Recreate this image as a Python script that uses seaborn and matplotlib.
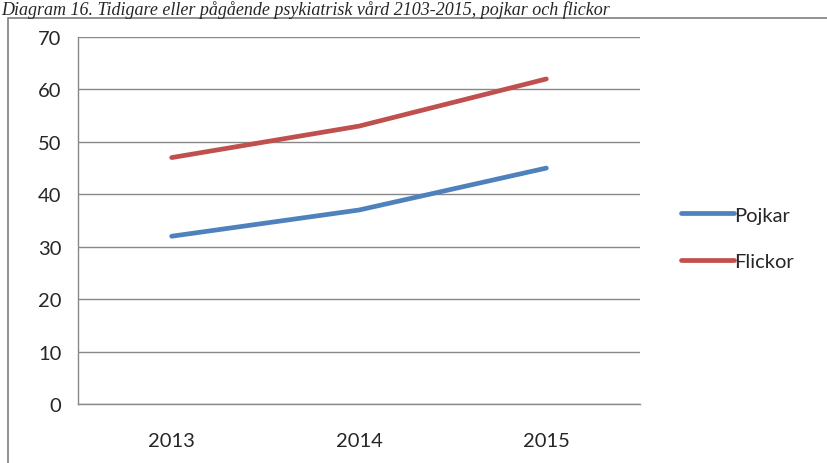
import matplotlib
matplotlib.use("Agg")
import matplotlib.pyplot as plt
import seaborn as sns
import pandas as pd
from matplotlib.patches import Rectangle

years = ["2013", "2014", "2015"]
pojkar = [32, 37, 45]
flickor = [47, 53, 62]
series_names = ["Pojkar", "Flickor"]
yticks = [0, 10, 20, 30, 40, 50, 60, 70]
title = "Diagram 16. Tidigare eller pågående psykiatrisk vård 2103-2015, pojkar och flickor"

sns.set_theme(style="white")
plt.rcParams['font.family'] = ['Lato', 'DejaVu Sans']

df = pd.DataFrame({
    "pos": list(range(len(years))) * 2,
    "value": pojkar + flickor,
    "serie": [series_names[0]] * len(years) + [series_names[1]] * len(years),
})

fig = plt.figure(figsize=(8.28, 4.64), dpi=100)
W, H = 828, 464
ax = fig.add_axes([78 / W, 59 / H, (640 - 78) / W, (405 - 38) / H])

palette = {"Pojkar": "#4F81BD", "Flickor": "#C0504D"}
sns.lineplot(data=df, x="pos", y="value", hue="serie", palette=palette,
             linewidth=3.4, ax=ax, legend=True, solid_capstyle="round")

fs = 14.5
ax.set_xlim(-0.5, 2.5)
ax.set_ylim(0, 70)
ax.set_yticks(yticks)
ax.set_yticklabels([str(t) for t in yticks], fontsize=fs)
ax.set_xticks([-0.5, 0.5, 1.5, 2.5])
ax.set_xticklabels([])
ax.set_xticks(range(len(years)), minor=True)
ax.set_xticklabels(years, minor=True, fontsize=fs)
ax.tick_params(axis="x", which="major", direction="out", length=6, color="#888888", width=1)
ax.tick_params(axis="x", which="minor", length=0, pad=20)
ax.tick_params(axis="y", direction="out", length=5, color="#888888", width=1, pad=7)
ax.set_xlabel("")
ax.set_ylabel("")
ax.yaxis.grid(True, color="#888888", linewidth=1)
ax.xaxis.grid(False)
for s in ["top", "right"]:
    ax.spines[s].set_visible(False)
for s in ["left", "bottom"]:
    ax.spines[s].set_color("#888888")
    ax.spines[s].set_linewidth(1)

handles, labels = ax.get_legend_handles_labels()
leg = ax.legend(handles, labels, loc="center left", bbox_to_anchor=(1.041, 0.452),
                frameon=False, fontsize=fs, handlelength=2.6, handletextpad=0.05,
                labelspacing=1.45)
for line in leg.get_lines():
    line.set_linewidth(3.4)

# outer chart frame
fig.patches.append(Rectangle((8 / W, -0.05), 1.0, (464 - 19) / H + 0.05,
                             transform=fig.transFigure, fill=False,
                             edgecolor="#7f7f7f", linewidth=1.2))

fig.text(1 / W, 1 - 1 / H, title, fontsize=13, style="italic",
         family=["Liberation Serif", "DejaVu Serif"], ha="left", va="top")

fig.savefig("out.png", dpi=100)
